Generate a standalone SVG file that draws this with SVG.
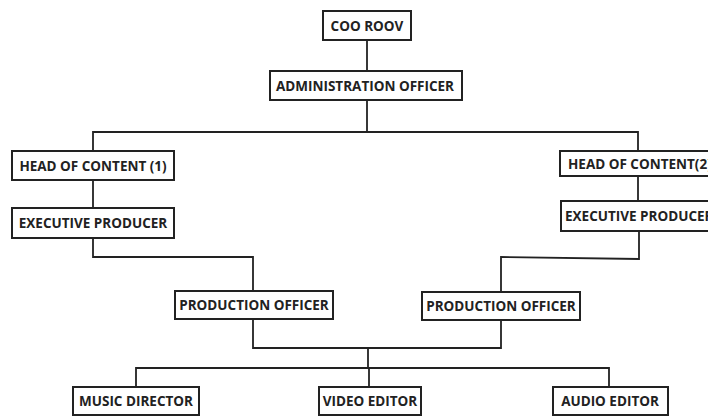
<svg xmlns="http://www.w3.org/2000/svg" width="708" height="417" viewBox="0 0 708 417">
<style>
.box{fill:#fff;stroke:#222;stroke-width:2}
.lbl{font-family:"Open Sans",sans-serif;font-weight:bold;font-size:13.5px;fill:#222;text-anchor:middle;dominant-baseline:central}
.st{text-anchor:start}
.conn{fill:none;stroke:#222;stroke-width:1.8}
</style>
<rect width="708" height="417" fill="#fff"/>
<g id="connectors">
<path class="conn" d="M367,40V71"/>
<path class="conn" d="M367,100V131"/>
<path class="conn" d="M93,151V132H638V151"/>
<path class="conn" d="M93,180V208"/>
<path class="conn" d="M638,176V201"/>
<path class="conn" d="M93,238V257H253V291"/>
<path class="conn" d="M639,231V259L501,257V292"/>
<path class="conn" d="M253,319V348H501V320"/>
<path class="conn" d="M368,348V368"/>
<path class="conn" d="M136,387V368H609V387"/>
<path class="conn" d="M369,368V387"/>
</g>
<g id="coo"><rect class="box" x="323" y="11" width="88" height="29"/><text class="lbl" x="367" y="26">COO ROOV</text></g>
<g id="admin"><rect class="box" x="270" y="71" width="192" height="29"/><text class="lbl" x="365" y="86">ADMINISTRATION OFFICER</text></g>
<g id="hoc1"><rect class="box" x="12" y="151" width="162" height="29"/><text class="lbl" x="93" y="166">HEAD OF CONTENT (1)</text></g>
<g id="exec1"><rect class="box" x="12" y="208" width="162" height="30"/><text class="lbl" x="93" y="223">EXECUTIVE PRODUCER</text></g>
<g id="hoc2"><rect class="box" x="560" y="151" width="160" height="25"/><text class="lbl st" x="568" y="164">HEAD OF CONTENT(2)</text></g>
<g id="exec2"><rect class="box" x="561" y="201" width="160" height="30"/><text class="lbl st" x="565" y="216">EXECUTIVE PRODUCER</text></g>
<g id="po1"><rect class="box" x="175" y="291" width="158" height="28"/><text class="lbl" x="254" y="305">PRODUCTION OFFICER</text></g>
<g id="po2"><rect class="box" x="422" y="292" width="158" height="28"/><text class="lbl" x="501" y="306">PRODUCTION OFFICER</text></g>
<g id="music"><rect class="box" x="73" y="387" width="126" height="28"/><text class="lbl" x="136" y="401">MUSIC DIRECTOR</text></g>
<g id="video"><rect class="box" x="319" y="387" width="102" height="28"/><text class="lbl" x="370" y="401">VIDEO EDITOR</text></g>
<g id="audio"><rect class="box" x="553" y="387" width="115" height="28"/><text class="lbl" x="610" y="401">AUDIO EDITOR</text></g>
</svg>
